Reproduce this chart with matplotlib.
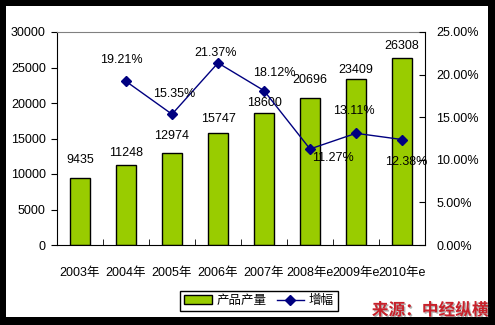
import numpy as np
import matplotlib.pyplot as plt
import matplotlib.patheffects as pe
from matplotlib.patches import Rectangle

plt.rcParams['font.family'] = ['Liberation Sans', 'Noto Sans CJK SC']

# 产量与增幅数据
years = ['2003年', '2004年', '2005年', '2006年', '2007年', '2008年e', '2009年e', '2010年e']
output = [9435, 11248, 12974, 15747, 18600, 20696, 23409, 26308]
growth = [np.nan, 19.21, 15.35, 21.37, 18.12, 11.27, 13.11, 12.38]

# 标签偏移（像素）
bar_lab_off = [18, 12, 17, 14, 10, 18, 9, 12]
pct_lab_off = [None, (-5, 21), (2, 20), (-2, 10), (10, 18), (23, -9), (-2, 22), (4, -22)]

W, H = 495, 325
fig = plt.figure(figsize=(W / 100, H / 100), dpi=100)
fig.patch.set_facecolor('black')
fig.patches.append(Rectangle((6 / W, 8 / H), 482 / W, 311 / H, transform=fig.transFigure,
                             facecolor='white', edgecolor='none', zorder=-5))

ax = fig.add_axes([57 / W, (H - 245) / H, 368 / W, 213 / H])
ax.set_facecolor('none')
x = np.arange(len(years))
ax.bar(x, output, width=0.42, color='#99CC00', edgecolor='black', linewidth=1,
       label='产品产量', zorder=2)
for xi, v, off in zip(x, output, bar_lab_off):
    ax.annotate(str(v), (xi, v), xytext=(0, off), textcoords='offset pixels',
                ha='center', va='center', fontsize=9, zorder=5)

ax.set_xlim(-0.5, len(years) - 0.5)
ax.set_ylim(0, 30000)
ax.set_yticks(np.arange(0, 30001, 5000))
ax.set_xticks(x)
ax.set_xticklabels(years, fontsize=9)
ax.set_xticks(np.arange(-0.5, len(years)), minor=True)
ax.tick_params(axis='x', which='major', length=0, pad=16)
ax.tick_params(axis='x', which='minor', direction='in', length=4)
ax.tick_params(axis='y', direction='out', length=4, labelsize=9, pad=4)
ax.spines['top'].set_color('#808080')
ax.spines['right'].set_visible(False)

ax2 = ax.twinx()
ax2.plot(x, growth, color='#000080', linewidth=1, marker='D', markersize=5,
         label='增幅', zorder=3)
for xi, v, off in zip(x, growth, pct_lab_off):
    if off is None:
        continue
    ax2.annotate(f'{v:.2f}%', (xi, v), xytext=off, textcoords='offset pixels',
                 ha='center', va='center', fontsize=9, zorder=5)
ax2.set_ylim(0, 25)
ax2.set_yticks(np.arange(0, 25.1, 5))
ax2.set_yticklabels([f'{t:.2f}%' for t in np.arange(0, 25.1, 5)], fontsize=9)
ax2.tick_params(axis='y', direction='in', length=4, pad=8)
ax2.spines['top'].set_visible(False)
ax2.spines['left'].set_visible(False)
ax2.spines['bottom'].set_visible(False)

h1, l1 = ax.get_legend_handles_labels()
h2, l2 = ax2.get_legend_handles_labels()
fig.legend(h1 + h2, l1 + l2, loc='center', bbox_to_anchor=(259 / W, (H - 301) / H),
           ncol=2, fontsize=9, frameon=True, fancybox=False, edgecolor='black',
           handlelength=2.2, handletextpad=0.4, columnspacing=0.8,
           borderpad=0.3, framealpha=1)

# 来源
fig.text(430 / W, (H - 310) / H, '来源：中经纵横', ha='center', va='center',
         fontsize=12, fontweight='bold', color='#C8202A',
         path_effects=[pe.withSimplePatchShadow(offset=(1, -1), shadow_rgbFace='#404040', alpha=0.4)])

fig.savefig('out.png', dpi=100, facecolor=fig.get_facecolor())
